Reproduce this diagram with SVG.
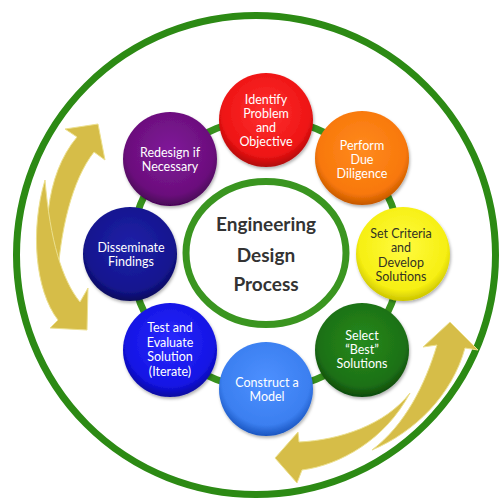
<svg xmlns="http://www.w3.org/2000/svg" width="501" height="500" viewBox="0 0 501 500">
  <defs>
    <style>
      .ring{fill:none;stroke:#37911d;stroke-width:7}
      .outer{fill:none;stroke:#2c8a14;stroke-width:7}
      .core{fill:#ffffff;stroke:#3a9520;stroke-width:7}
      .arrow{fill:#d6bd48;stroke:#ece08f;stroke-width:1}
      .node circle{filter:url(#shadow)}
      .lbl{font-family:Lato,"Open Sans","Liberation Sans",sans-serif;font-size:12.5px;text-anchor:middle;fill:#ffffff}
      .dark{fill:#333322}
      .title{font-family:Lato,"Open Sans","Liberation Sans",sans-serif;font-size:19px;font-weight:bold;text-anchor:middle;fill:#333333}
    </style>
    <filter id="shadow" x="-20%" y="-20%" width="140%" height="140%">
      <feDropShadow dx="1" dy="2" stdDeviation="1.5" flood-color="#000" flood-opacity="0.3"/>
    </filter>
    <radialGradient id="gRed" cx="50%" cy="42%" r="58%"><stop offset="0" stop-color="#ff3030"/><stop offset="0.8" stop-color="#ee1414"/><stop offset="1" stop-color="#b00808"/></radialGradient>
    <radialGradient id="gOrange" cx="50%" cy="42%" r="58%"><stop offset="0" stop-color="#ff8a20"/><stop offset="0.8" stop-color="#f8780a"/><stop offset="1" stop-color="#c45800"/></radialGradient>
    <radialGradient id="gYellow" cx="50%" cy="42%" r="58%"><stop offset="0" stop-color="#fffb40"/><stop offset="0.8" stop-color="#f6ef12"/><stop offset="1" stop-color="#cbc400"/></radialGradient>
    <radialGradient id="gGreen" cx="50%" cy="42%" r="58%"><stop offset="0" stop-color="#258a1c"/><stop offset="0.8" stop-color="#1d7016"/><stop offset="1" stop-color="#0e4a0a"/></radialGradient>
    <radialGradient id="gLBlue" cx="50%" cy="42%" r="58%"><stop offset="0" stop-color="#4d90ff"/><stop offset="0.8" stop-color="#3b7ff0"/><stop offset="1" stop-color="#1a55c0"/></radialGradient>
    <radialGradient id="gBlue" cx="50%" cy="42%" r="58%"><stop offset="0" stop-color="#2a2aff"/><stop offset="0.8" stop-color="#1414e4"/><stop offset="1" stop-color="#0808a0"/></radialGradient>
    <radialGradient id="gNavy" cx="50%" cy="42%" r="58%"><stop offset="0" stop-color="#2022a8"/><stop offset="0.8" stop-color="#14158f"/><stop offset="1" stop-color="#0a0a5c"/></radialGradient>
    <radialGradient id="gPurple" cx="50%" cy="42%" r="58%"><stop offset="0" stop-color="#80189a"/><stop offset="0.8" stop-color="#6b0f7c"/><stop offset="1" stop-color="#480556"/></radialGradient>
  </defs>

  <rect x="0" y="0" width="501" height="500" fill="#ffffff"/>

  <g id="frame">
    <circle class="outer" cx="256" cy="255" r="239.5"/>
  </g>

  <g id="connectors">
    <circle class="ring" cx="266" cy="254" r="135"/>
    <path class="arrow" d="M57,285 C40,240 45,175 77,137 L65,129 L98,124 L105,160 L94,152 C72,180 60,230 57,285 Z"/>
    <path class="arrow" d="M45,180 C30,230 35,290 58,320 L50,328 L87,330 L88,288 L80,302 C62,280 50,240 45,180 Z"/>
    <path class="arrow" d="M410,393 C385,440 340,465 302,470 L297,483 L275,458 L298,432 L299,442 C340,440 385,425 410,393 Z"/>
    <path class="arrow" d="M372,450 C415,432 452,395 465,348 L478,350 L450,322 L423,347 L437,345 C425,385 405,425 372,450 Z"/>
  </g>

  <g id="center">
    <ellipse class="core" cx="266" cy="253" rx="80" ry="71.5"/>
    <text class="title" x="266" y="231">Engineering</text>
    <text class="title" x="266" y="262">Design</text>
    <text class="title" x="266" y="291">Process</text>
  </g>

  <g id="n1" class="node">
    <circle cx="266" cy="120" r="47" fill="url(#gRed)"/>
    <text class="lbl" x="266" y="104">Identify</text>
    <text class="lbl" x="266" y="118">Problem</text>
    <text class="lbl" x="266" y="132">and</text>
    <text class="lbl" x="266" y="146">Objective</text>
  </g>
  <g id="n2" class="node">
    <circle cx="362" cy="158" r="47" fill="url(#gOrange)"/>
    <text class="lbl" x="362" y="150">Perform</text>
    <text class="lbl" x="362" y="164">Due</text>
    <text class="lbl" x="362" y="178">Diligence</text>
  </g>
  <g id="n3" class="node">
    <circle cx="403" cy="254" r="47" fill="url(#gYellow)"/>
    <text class="lbl dark" x="401" y="238">Set Criteria</text>
    <text class="lbl dark" x="401" y="252">and</text>
    <text class="lbl dark" x="401" y="266.5">Develop</text>
    <text class="lbl dark" x="401" y="281">Solutions</text>
  </g>
  <g id="n4" class="node">
    <circle cx="362" cy="350" r="47" fill="url(#gGreen)"/>
    <text class="lbl" x="362" y="340">Select</text>
    <text class="lbl" x="362" y="354">“Best”</text>
    <text class="lbl" x="362" y="368">Solutions</text>
  </g>
  <g id="n5" class="node">
    <circle cx="266" cy="389" r="47" fill="url(#gLBlue)"/>
    <text class="lbl" x="267" y="387">Construct a</text>
    <text class="lbl" x="267" y="401">Model</text>
  </g>
  <g id="n6" class="node">
    <circle cx="170" cy="350" r="47" fill="url(#gBlue)"/>
    <text class="lbl" x="170" y="332">Test and</text>
    <text class="lbl" x="170" y="347">Evaluate</text>
    <text class="lbl" x="170" y="361">Solution</text>
    <text class="lbl" x="170" y="376">(Iterate)</text>
  </g>
  <g id="n7" class="node">
    <circle cx="130" cy="254" r="47" fill="url(#gNavy)"/>
    <text class="lbl" x="131" y="252">Disseminate</text>
    <text class="lbl" x="131" y="266">Findings</text>
  </g>
  <g id="n8" class="node">
    <circle cx="170" cy="159" r="47" fill="url(#gPurple)"/>
    <text class="lbl" x="170" y="157">Redesign if</text>
    <text class="lbl" x="170" y="171">Necessary</text>
  </g>
</svg>
